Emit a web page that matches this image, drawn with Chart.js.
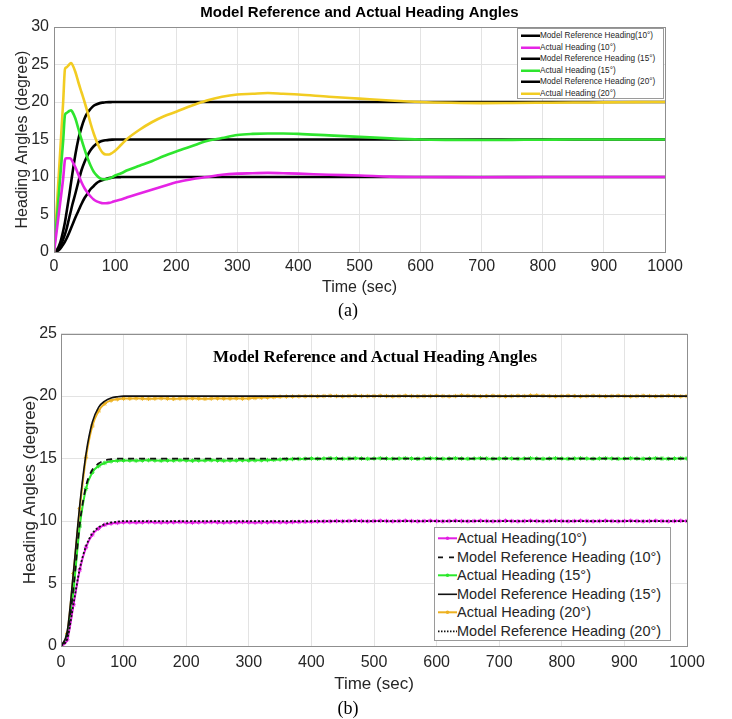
<!DOCTYPE html>
<html><head><meta charset="utf-8">
<script src="https://cdn.jsdelivr.net/npm/chart.js@4.4.1/dist/chart.umd.min.js"></script>
<style>
html,body{margin:0;padding:0;background:#fff;width:732px;height:719px;overflow:hidden;position:relative;font-family:"Liberation Sans",Arial,sans-serif;}
#wa{position:absolute;left:0;top:0;width:732px;height:300px;}
#wb{position:absolute;left:0;top:320px;width:732px;height:380px;}
.cap{position:absolute;font-family:"Liberation Serif","Times New Roman",serif;font-size:18px;color:#000;transform:translate(-50%,-50%);white-space:nowrap;line-height:1;}
.leg{position:absolute;background:#fff;border:1px solid #9a9a9a;box-sizing:border-box;}
.row{display:flex;align-items:center;white-space:nowrap;color:#262626;}
.row svg{flex:none;}
</style></head><body>
<div id="wa"><canvas id="ca"></canvas></div>
<div id="wb"><canvas id="cb"></canvas></div>
<div class="cap" style="left:348px;top:310px">(a)</div>
<div class="cap" style="left:348px;top:708px">(b)</div>
<div class="cap" style="left:375px;top:356px;font-weight:bold;font-size:17px">Model Reference and Actual Heading Angles</div>
<div id="legA" class="leg" style="left:517px;top:28px;width:147px;height:71px;padding:1px 0 0 3px"></div>
<div id="legB" class="leg" style="left:434px;top:527px;width:237px;height:114px;padding:1px 0 0 3px"></div>
<script>
// ---------- (a) data ----------
const timeA = [0,5,10,15,18,20,25,28,30,35,40,45,50,55,60,65,70,75,80,85,90,95,100,110,120,140,160,180,200,225,250,275,300,325,350,375,400,450,500,550,600,650,700,750,800,850,900,950,1000];
const refA10 = [0,0.1,0.4,1.0,1.4,1.7,2.6,3.2,3.6,4.6,5.5,6.4,7.2,7.8,8.4,8.8,9.2,9.45,9.6,9.75,9.85,9.92,9.96,9.99,10,10,10,10,10,10,10,10,10,10,10,10,10,10,10,10,10,10,10,10,10,10,10,10,10];
const actA10 = [0,3.2,6.5,9.8,12.3,12.5,12.5,12.4,12.1,11.3,10.3,9.3,8.5,7.9,7.4,7.0,6.75,6.6,6.5,6.5,6.55,6.65,6.8,7.0,7.3,7.8,8.3,8.8,9.3,9.7,10.0,10.3,10.45,10.5,10.55,10.5,10.45,10.3,10.2,10.05,10.0,9.98,9.97,9.98,10,10,10,10,10];
const refA15 = [0,0.2,0.7,1.7,2.4,2.9,4.6,5.6,6.3,7.8,9.4,10.9,12.0,12.9,13.6,14.1,14.45,14.7,14.83,14.9,14.95,14.98,15,15,15,15,15,15,15,15,15,15,15,15,15,15,15,15,15,15,15,15,15,15,15,15,15,15,15];
const actA15 = [0,4.8,9.8,14.8,18.3,18.5,18.8,18.9,18.7,17.8,16.4,15.0,13.7,12.5,11.5,10.7,10.2,9.85,9.7,9.7,9.8,9.95,10.2,10.5,10.9,11.5,12.1,12.8,13.4,14.1,14.8,15.2,15.6,15.75,15.8,15.8,15.75,15.55,15.35,15.15,15.0,14.95,14.93,14.95,14.97,15,15,15,15];
const refA20 = [0,0.3,1.2,2.8,4.0,5.0,7.6,9.3,10.4,13.0,15.1,16.6,17.8,18.6,19.1,19.5,19.7,19.85,19.92,19.96,19.98,19.99,20,20,20,20,20,20,20,20,20,20,20,20,20,20,20,20,20,20,20,20,20,20,20,20,20,20,20];
const actA20 = [0,6.5,13.2,20.0,24.4,24.6,25.0,25.2,25.0,24.0,22.6,21.3,20.0,18.6,17.1,15.8,14.7,13.8,13.2,13.0,13.0,13.2,13.5,14.3,15.1,16.3,17.3,18.1,18.7,19.5,20.2,20.7,21.0,21.1,21.2,21.1,21.0,20.7,20.45,20.2,20.0,19.9,19.85,19.87,19.9,19.93,19.95,19.98,20];
const labelsA = ['Model Reference Heading(10°)','Actual Heading (10°)','Model Reference Heading (15°)','Actual Heading (15°)','Model Reference Heading (20°)','Actual Heading (20°)'];

// ---------- (b) data ----------
const timeB = [0,10,20,30,40,50,60,70,80,90,
 100,110,120,130,140,150,160,170,180,190,
 200,210,220,230,240,250,260,270,280,290,
 300,310,320,330,340,350,360,370,380,390,
 400,410,420,430,440,450,460,470,480,490,
 500,510,520,530,540,550,560,570,580,590,
 600,610,620,630,640,650,660,670,680,690,
 700,710,720,730,740,750,760,770,780,790,
 800,810,820,830,840,850,860,870,880,890,
 900,910,920,930,940,950,960,970,980,990,1000];
const actB10 = [0,0.5,3.3,6.1,7.9,8.9,9.4,9.7,9.8,9.85,
 9.9,9.9,9.88,9.9,9.92,9.9,9.88,9.9,9.9,9.92,
 9.9,9.88,9.9,9.9,9.92,9.9,9.88,9.9,9.9,9.92,
 9.9,9.88,9.9,9.9,9.92,9.9,9.9,9.92,9.93,9.94,
 9.95,9.96,9.97,9.98,10,9.98,10,10.02,10,9.98,
 10,10.02,10,9.98,10,10.02,10,9.98,10,10.02,
 10,9.98,10,10.02,10,9.98,10,10.02,10,9.98,
 10,10.02,10,9.98,10,10.02,10,9.98,10,10.02,
 10,9.98,10,10.02,10,9.98,10,10.02,10,9.98,
 10,10.02,10,9.98,10,10.02,10,9.98,10,10.02,10];
const refBDashed = [0,0.9,4.7,9.8,12.8,14.1,14.6,14.85,14.95,15,
 15,15,15,15,15,15,15,15,15,15,
 15,15,15,15,15,15,15,15,15,15,
 15,15,15,15,15,15,15,15,15,15,
 15,15,15,15,15,15,15,15,15,15,
 15,15,15,15,15,15,15,15,15,15,
 15,15,15,15,15,15,15,15,15,15,
 15,15,15,15,15,15,15,15,15,15,
 15,15,15,15,15,15,15,15,15,15,
 15,15,15,15,15,15,15,15,15,15,15];
const actB15 = [0,0.8,4.5,9.6,12.6,13.9,14.4,14.65,14.78,14.83,
 14.85,14.85,14.83,14.85,14.87,14.85,14.83,14.85,14.85,14.87,
 14.85,14.83,14.85,14.85,14.87,14.85,14.83,14.85,14.85,14.87,
 14.85,14.86,14.87,14.88,14.9,14.92,14.94,14.96,14.97,14.98,
 15,14.98,15,15.02,15,14.98,15,15.02,15,14.98,
 15,15.02,15,14.98,15,15.02,15,14.98,15,15.02,
 15,14.98,15,15.02,15,14.98,15,15.02,15,14.98,
 15,15.02,15,14.98,15,15.02,15,14.98,15,15.02,
 15,14.98,15,15.02,15,14.98,15,15.02,15,14.98,
 15,15.02,15,14.98,15,15.02,15,14.98,15,15.02,15];
const refBSolid = [0,1.2,6.0,11.3,15.4,17.9,19.1,19.6,19.85,19.95,
 20,20,20,20,20,20,20,20,20,20,
 20,20,20,20,20,20,20,20,20,20,
 20,20,20,20,20,20,20,20,20,20,
 20,20,20,20,20,20,20,20,20,20,
 20,20,20,20,20,20,20,20,20,20,
 20,20,20,20,20,20,20,20,20,20,
 20,20,20,20,20,20,20,20,20,20,
 20,20,20,20,20,20,20,20,20,20,
 20,20,20,20,20,20,20,20,20,20,20];
const actB20 = [0,1.0,5.8,11.0,15.1,17.6,18.8,19.4,19.65,19.75,
 19.8,19.8,19.82,19.8,19.78,19.8,19.82,19.8,19.78,19.8,
 19.8,19.82,19.8,19.78,19.8,19.82,19.8,19.8,19.82,19.8,
 19.82,19.85,19.88,19.9,19.92,19.95,19.96,19.97,19.98,19.98,
 20,19.98,20,20.02,20,19.98,20,20.02,20,20,
 20,20.02,20,19.98,20,20.02,20,19.98,20,20,
 20.02,20,19.98,20,20.05,20.02,20,19.98,20,20.02,
 20,19.98,20,20.02,20,20.04,20.05,20.02,20,19.98,
 20,20.02,20,19.98,20,20.02,20,19.98,20,20.02,
 20,19.98,20,20.02,20,19.98,20,20.02,20,19.98,20];
const refBDotted = [0,0.6,3.4,6.2,8.0,9.0,9.5,9.75,9.88,9.95,
 10,10,10,10,10,10,10,10,10,10,
 10,10,10,10,10,10,10,10,10,10,
 10,10,10,10,10,10,10,10,10,10,
 10,10,10,10,10,10,10,10,10,10,
 10,10,10,10,10,10,10,10,10,10,
 10,10,10,10,10,10,10,10,10,10,
 10,10,10,10,10,10,10,10,10,10,
 10,10,10,10,10,10,10,10,10,10,
 10,10,10,10,10,10,10,10,10,10,10];
const labelsB = ['Actual Heading(10°)','Model Reference Heading (10°)','Actual Heading (15°)','Model Reference Heading (15°)','Actual Heading (20°)','Model Reference Heading (20°)'];

const xTicks = [0,100,200,300,400,500,600,700,800,900,1000];

function pts(t, v){ return t.map((x,i)=>({x:x, y:v[i]})); }

Chart.defaults.font.family = '"Liberation Sans", Arial, sans-serif';
Chart.defaults.color = '#262626';

const boxPlugin = {
  id:'box',
  afterDatasetsDraw(chart){
    const a = chart.chartArea, c = chart.ctx;
    c.save(); c.strokeStyle='#8f8f8f'; c.lineWidth=1;
    c.strokeRect(Math.round(a.left)+0.5, Math.round(a.top)+0.5, Math.round(a.right-a.left), Math.round(a.bottom-a.top));
    c.restore();
  }
};

function lineDs(label, t, v, color, width, extra){
  return Object.assign({label, data:pts(t,v), borderColor:color, backgroundColor:color, borderWidth:width,
    pointRadius:0, fill:false, cubicInterpolationMode:'monotone'}, extra||{});
}

function scales(cfg){
  return {
    x:{type:'linear', min:0, max:1000,
      afterBuildTicks(s){ s.ticks = xTicks.map(v=>({value:v})); },
      afterFit(s){ s.height = cfg.xh; },
      grid:{color:'#e3e3e3', drawTicks:false},
      border:{display:false},
      ticks:{font:{size:16}, padding:cfg.xpad, maxRotation:0, autoSkip:false, callback:(v)=>String(v)},
      title:{display:true, text:'Time (sec)', font:{size:cfg.tfs}, color:'#262626', padding:{top:0,bottom:cfg.xtb}}},
    y:{min:0, max:cfg.ymax,
      afterBuildTicks(s){ s.ticks = cfg.yticks.map(v=>({value:v})); },
      afterFit(s){ s.width = cfg.yw; },
      grid:{color:'#e3e3e3', drawTicks:false},
      border:{display:false},
      ticks:{font:{size:16}, padding:cfg.ypad, callback:(v)=>String(v)},
      title:{display:true, text:'Heading Angles (degree)', font:{size:cfg.tfs}, color:'#262626', padding:{top:cfg.ytt,bottom:0}}}
  };
}

const chartA = new Chart(document.getElementById('ca'), {
  type:'line',
  data:{datasets:[
    lineDs(labelsA[0], timeA, refA10, '#000000', 2.6, {order:2}),
    lineDs(labelsA[1], timeA, actA10, '#e524e5', 2.6, {order:1}),
    lineDs(labelsA[2], timeA, refA15, '#000000', 2.6, {order:2}),
    lineDs(labelsA[3], timeA, actA15, '#2ee52e', 2.6, {order:1}),
    lineDs(labelsA[4], timeA, refA20, '#000000', 2.6, {order:2}),
    lineDs(labelsA[5], timeA, actA20, '#f2cc22', 2.6, {order:1})
  ]},
  options:{
    responsive:true, maintainAspectRatio:false, animation:false, devicePixelRatio:1,
    layout:{padding:{left:0,right:67,top:0,bottom:0}},
    plugins:{legend:{display:false}, tooltip:{enabled:false},
      title:{display:true, fullSize:false, text:'Model Reference and Actual Heading Angles', color:'#000',
        font:{size:15, weight:'bold'}, padding:{top:4,bottom:5}}},
    scales:scales({xh:48, xpad:5, xtb:3, tfs:16, ymax:30, yticks:[0,5,10,15,20,25,30], yw:54, ypad:5, ytt:13})
  },
  plugins:[boxPlugin]
});

const mk = {pointRadius:2.2, pointStyle:'star', pointBorderWidth:1, pointHoverRadius:2.2};
const chartB = new Chart(document.getElementById('cb'), {
  type:'line',
  data:{datasets:[
    lineDs(labelsB[0], timeB, actB10, '#e21ee2', 2, Object.assign({order:2}, mk)),
    lineDs(labelsB[1], timeB, refBDashed, '#111111', 1.8, {order:1, borderDash:[6,5]}),
    lineDs(labelsB[2], timeB, actB15, '#2be82b', 2, Object.assign({order:2}, mk)),
    lineDs(labelsB[3], timeB, refBSolid, '#111111', 1.6, {order:1}),
    lineDs(labelsB[4], timeB, actB20, '#edb120', 2, Object.assign({order:2}, mk)),
    lineDs(labelsB[5], timeB, refBDotted, '#111111', 1.8, {order:1, borderDash:[2,2]})
  ]},
  options:{
    responsive:true, maintainAspectRatio:false, animation:false, devicePixelRatio:1,
    layout:{padding:{left:0,right:45,top:13,bottom:0}},
    plugins:{legend:{display:false}, tooltip:{enabled:false}},
    scales:scales({xh:54, xpad:7, xtb:5, tfs:17, ymax:25, yticks:[0,5,10,15,20,25], yw:61, ypad:4, ytt:20})
  },
  plugins:[boxPlugin]
});

function buildLegend(id, chart, fontPx, rowH, sampleW, dashMap){
  const el = document.getElementById(id);
  const NS = 'http://www.w3.org/2000/svg';
  chart.data.datasets.forEach(ds=>{
    const row = document.createElement('div');
    row.className = 'row';
    row.style.height = rowH+'px';
    row.style.lineHeight = rowH+'px';
    row.style.fontSize = fontPx+'px';
    const svg = document.createElementNS(NS,'svg');
    svg.setAttribute('width', sampleW); svg.setAttribute('height', rowH);
    const ln = document.createElementNS(NS,'line');
    ln.setAttribute('x1',0); ln.setAttribute('x2',sampleW);
    ln.setAttribute('y1',rowH/2); ln.setAttribute('y2',rowH/2);
    ln.setAttribute('stroke', ds.borderColor);
    ln.setAttribute('stroke-width', Math.min(ds.borderWidth, 2.5));
    if (ds.borderDash) ln.setAttribute('stroke-dasharray', (dashMap && dashMap[ds.borderDash.join(',')]) || ds.borderDash.join(' '));
    svg.appendChild(ln);
    if (ds.pointRadius > 0){
      const c = document.createElementNS(NS,'circle');
      c.setAttribute('cx', sampleW/2); c.setAttribute('cy', rowH/2); c.setAttribute('r', 1.8);
      c.setAttribute('fill', ds.borderColor);
      svg.appendChild(c);
    }
    row.appendChild(svg);
    const sp = document.createElement('span');
    sp.textContent = ds.label;
    row.appendChild(sp);
    el.appendChild(row);
  });
}
buildLegend('legA', chartA, 8.2, 11.5, 19, null);
buildLegend('legB', chartB, 14.5, 18.6, 19, {'6,5':'5 6', '2,2':'1.5 1.5'});
</script>
</body></html>
